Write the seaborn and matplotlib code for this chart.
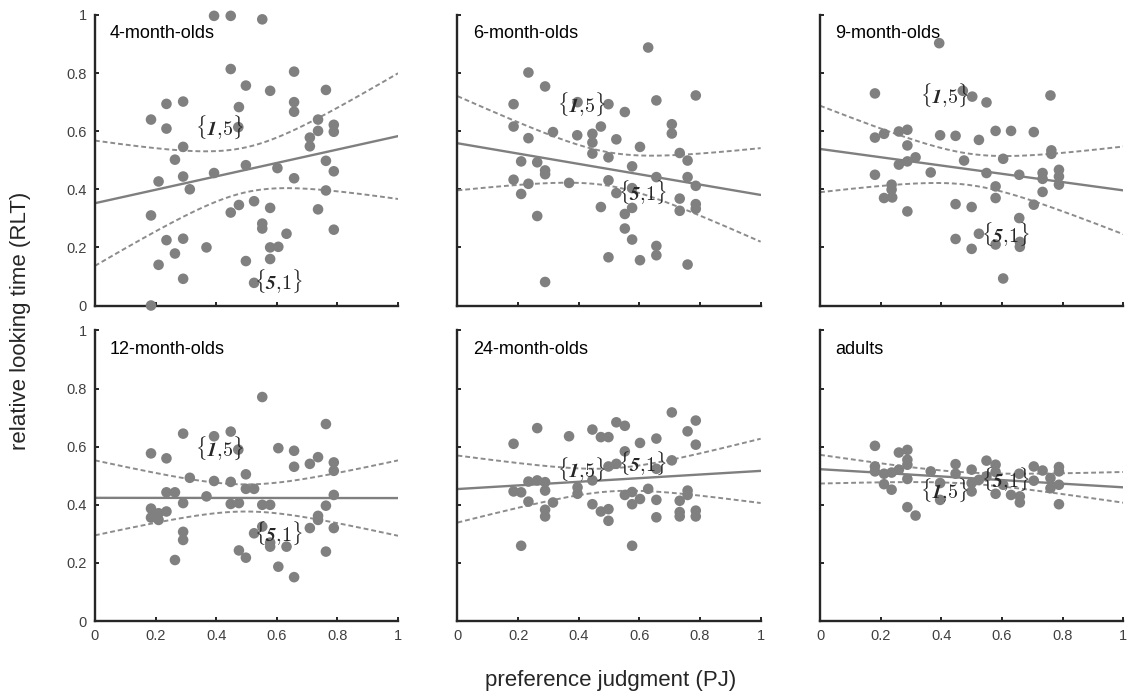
import numpy as np
import pandas as pd
import matplotlib
matplotlib.use('Agg')
import matplotlib.pyplot as plt
import seaborn as sns

# === Data ===
groups = ['4-month-olds', '6-month-olds', '9-month-olds',
          '12-month-olds', '24-month-olds', 'adults']

pj_4m = [0.393, 0.448, 0.552, 0.448, 0.657, 0.498, 0.578, 0.762, 0.236, 0.291, 0.475, 0.657,
         0.657, 0.185, 0.236, 0.473, 0.736, 0.788, 0.788, 0.736, 0.709, 0.709, 0.291, 0.264,
         0.762, 0.498, 0.602, 0.393, 0.788, 0.210, 0.291, 0.657, 0.313, 0.762, 0.525, 0.475,
         0.448, 0.578, 0.736, 0.185, 0.552, 0.552, 0.632, 0.788, 0.236, 0.291, 0.368, 0.578,
         0.605, 0.264, 0.210, 0.498, 0.578, 0.291, 0.525, 0.185]
rlt_4m = [0.997, 0.997, 0.985, 0.814, 0.805, 0.757, 0.739, 0.742, 0.694, 0.702, 0.683, 0.700,
          0.667, 0.640, 0.609, 0.614, 0.640, 0.622, 0.598, 0.601, 0.578, 0.548, 0.546, 0.502,
          0.498, 0.483, 0.473, 0.456, 0.462, 0.427, 0.444, 0.438, 0.400, 0.396, 0.359, 0.346,
          0.320, 0.336, 0.331, 0.310, 0.282, 0.265, 0.247, 0.261, 0.225, 0.230, 0.200, 0.200,
          0.202, 0.179, 0.140, 0.153, 0.160, 0.092, 0.078, 0.000]

pj_6m = [0.629, 0.234, 0.289, 0.185, 0.786, 0.656, 0.498, 0.396, 0.552, 0.185, 0.707, 0.707,
         0.473, 0.315, 0.395, 0.445, 0.445, 0.234, 0.524, 0.602, 0.445, 0.498, 0.733, 0.759,
         0.210, 0.263, 0.289, 0.289, 0.576, 0.185, 0.234, 0.368, 0.498, 0.656, 0.759, 0.786,
         0.210, 0.524, 0.576, 0.733, 0.786, 0.786, 0.733, 0.473, 0.576, 0.552, 0.263, 0.552,
         0.576, 0.656, 0.656, 0.498, 0.602, 0.759, 0.289]
rlt_6m = [0.888, 0.802, 0.754, 0.693, 0.723, 0.706, 0.693, 0.700, 0.666, 0.616, 0.624, 0.592,
          0.616, 0.597, 0.586, 0.591, 0.561, 0.576, 0.572, 0.546, 0.523, 0.510, 0.525, 0.499,
          0.496, 0.493, 0.465, 0.452, 0.479, 0.433, 0.419, 0.422, 0.431, 0.442, 0.442, 0.412,
          0.384, 0.387, 0.404, 0.368, 0.349, 0.333, 0.326, 0.339, 0.336, 0.315, 0.308, 0.265,
          0.227, 0.205, 0.173, 0.166, 0.156, 0.141, 0.081]

pj_9m = [0.393, 0.181, 0.760, 0.471, 0.502, 0.549, 0.181, 0.211, 0.260, 0.288, 0.396, 0.447,
         0.579, 0.630, 0.705, 0.524, 0.288, 0.763, 0.763, 0.604, 0.315, 0.288, 0.260, 0.475,
         0.365, 0.549, 0.657, 0.734, 0.734, 0.788, 0.788, 0.788, 0.181, 0.236, 0.236, 0.579,
         0.211, 0.238, 0.579, 0.734, 0.705, 0.288, 0.447, 0.500, 0.657, 0.524, 0.447, 0.579,
         0.659, 0.659, 0.500, 0.604]
rlt_9m = [0.903, 0.730, 0.723, 0.739, 0.719, 0.699, 0.578, 0.591, 0.599, 0.605, 0.586, 0.584,
          0.601, 0.601, 0.597, 0.570, 0.551, 0.534, 0.522, 0.505, 0.510, 0.496, 0.485, 0.499,
          0.458, 0.456, 0.450, 0.456, 0.436, 0.467, 0.444, 0.416, 0.450, 0.416, 0.399, 0.410,
          0.370, 0.372, 0.370, 0.391, 0.347, 0.324, 0.349, 0.339, 0.301, 0.247, 0.229, 0.210,
          0.219, 0.202, 0.195, 0.093]

pj_12m = [0.552, 0.762, 0.291, 0.448, 0.393, 0.473, 0.185, 0.236, 0.605, 0.657, 0.657, 0.709,
          0.736, 0.788, 0.788, 0.313, 0.393, 0.448, 0.498, 0.498, 0.525, 0.236, 0.264, 0.368,
          0.788, 0.291, 0.448, 0.475, 0.552, 0.578, 0.762, 0.185, 0.185, 0.210, 0.236, 0.210,
          0.736, 0.736, 0.552, 0.709, 0.788, 0.525, 0.291, 0.291, 0.578, 0.578, 0.632, 0.475,
          0.762, 0.498, 0.264, 0.605, 0.657]
rlt_12m = [0.771, 0.678, 0.645, 0.652, 0.636, 0.590, 0.577, 0.560, 0.595, 0.586, 0.531, 0.541,
           0.564, 0.546, 0.517, 0.493, 0.482, 0.479, 0.505, 0.455, 0.455, 0.443, 0.443, 0.429,
           0.434, 0.406, 0.403, 0.406, 0.400, 0.400, 0.397, 0.387, 0.356, 0.371, 0.377, 0.348,
           0.362, 0.348, 0.325, 0.320, 0.320, 0.302, 0.307, 0.279, 0.270, 0.256, 0.256, 0.243,
           0.239, 0.218, 0.210, 0.187, 0.151]

pj_24m = [0.707, 0.786, 0.524, 0.552, 0.263, 0.445, 0.473, 0.498, 0.368, 0.759, 0.656, 0.185,
          0.602, 0.786, 0.552, 0.707, 0.498, 0.524, 0.656, 0.445, 0.234, 0.263, 0.289, 0.289,
          0.396, 0.396, 0.629, 0.185, 0.210, 0.552, 0.576, 0.759, 0.759, 0.234, 0.315, 0.576,
          0.602, 0.656, 0.733, 0.445, 0.473, 0.498, 0.289, 0.289, 0.498, 0.656, 0.733, 0.733,
          0.786, 0.786, 0.210, 0.576]
rlt_24m = [0.718, 0.690, 0.684, 0.672, 0.664, 0.659, 0.633, 0.633, 0.636, 0.653, 0.628, 0.610,
           0.613, 0.607, 0.584, 0.553, 0.532, 0.541, 0.524, 0.484, 0.480, 0.484, 0.478, 0.449,
           0.460, 0.438, 0.455, 0.446, 0.443, 0.434, 0.444, 0.449, 0.434, 0.411, 0.408, 0.402,
           0.420, 0.417, 0.414, 0.402, 0.377, 0.385, 0.383, 0.360, 0.345, 0.357, 0.375, 0.360,
           0.380, 0.360, 0.259, 0.259]

pj_ad = [0.181, 0.260, 0.288, 0.288, 0.288, 0.549, 0.579, 0.447, 0.181, 0.181, 0.211, 0.236,
         0.260, 0.365, 0.500, 0.447, 0.705, 0.734, 0.788, 0.788, 0.579, 0.657, 0.288, 0.211,
         0.236, 0.396, 0.500, 0.524, 0.549, 0.604, 0.705, 0.760, 0.760, 0.788, 0.500, 0.579,
         0.630, 0.659, 0.659, 0.396, 0.788, 0.288, 0.315]
rlt_ad = [0.603, 0.580, 0.589, 0.555, 0.538, 0.552, 0.538, 0.540, 0.532, 0.515, 0.507, 0.511,
          0.521, 0.515, 0.521, 0.507, 0.532, 0.518, 0.530, 0.515, 0.513, 0.507, 0.489, 0.471,
          0.452, 0.475, 0.475, 0.486, 0.498, 0.469, 0.483, 0.492, 0.457, 0.469, 0.446, 0.438,
          0.434, 0.429, 0.408, 0.417, 0.402, 0.392, 0.363]

pj_all = [pj_4m, pj_6m, pj_9m, pj_12m, pj_24m, pj_ad]
rlt_all = [rlt_4m, rlt_6m, rlt_9m, rlt_12m, rlt_24m, rlt_ad]

# label positions of the {1,5} / {5,1} markers in each panel
lab15_xy = [(0.41, 0.615), (0.41, 0.694), (0.41, 0.725), (0.41, 0.597), (0.41, 0.524), (0.41, 0.452)]
lab51_xy = [(0.605, 0.083), (0.61, 0.392), (0.61, 0.247), (0.607, 0.303), (0.61, 0.545), (0.61, 0.49)]

ticks = [0, 0.2, 0.4, 0.6, 0.8, 1]
tick_labels = ['0', '0.2', '0.4', '0.6', '0.8', '1']

# === Style ===
sns.set_style('ticks')
plt.rcParams['font.family'] = ['Liberation Sans', 'DejaVu Sans']
plt.rcParams['mathtext.fontset'] = 'cm'

dot_col = '#808080'
line_col = '#7f7f7f'
spine_col = '#262626'

fig, axes = plt.subplots(2, 3, figsize=(11.3, 6.97), dpi=100)
fig.subplots_adjust(left=0.084, right=0.994, top=0.9785, bottom=0.109,
                    wspace=0.196, hspace=0.086)

xg = np.linspace(0, 1, 201)

for i, ax in enumerate(axes.flat):
    df = pd.DataFrame({'pj': pj_all[i], 'rlt': rlt_all[i]})

    # OLS fit with (simultaneous) confidence band for the mean
    x = df['pj'].values
    y = df['rlt'].values
    n = len(x)
    b1, b0 = np.polyfit(x, y, 1)
    resid = y - (b0 + b1 * x)
    s = np.sqrt(np.sum(resid ** 2) / (n - 2))
    sxx = np.sum((x - x.mean()) ** 2)
    se = s * np.sqrt(1 / n + (xg - x.mean()) ** 2 / sxx)
    t = 2.4
    fit = pd.DataFrame({'x': xg, 'yhat': b0 + b1 * xg,
                        'lo': b0 + b1 * xg - t * se, 'hi': b0 + b1 * xg + t * se})

    sns.lineplot(data=fit, x='x', y='yhat', ax=ax, color=line_col, lw=1.7, zorder=2)
    sns.lineplot(data=fit, x='x', y='lo', ax=ax, color='#8c8c8c', lw=1.4,
                 linestyle=(0, (2.5, 1.5)), zorder=2)
    sns.lineplot(data=fit, x='x', y='hi', ax=ax, color='#8c8c8c', lw=1.4,
                 linestyle=(0, (2.5, 1.5)), zorder=2)

    sns.scatterplot(data=df, x='pj', y='rlt', ax=ax, color=dot_col, s=58,
                    edgecolor='none', linewidth=0, clip_on=False, zorder=3)

    ax.text(*lab15_xy[i], r'$\{\mathbfit{1}{,}5\}$', fontsize=14.5, ha='center',
            va='center', zorder=5)
    ax.text(*lab51_xy[i], r'$\{\mathbfit{5}{,}1\}$', fontsize=14.5, ha='center',
            va='center', zorder=5)

    ax.text(0.05, 0.965, groups[i], transform=ax.transAxes, fontsize=13,
            ha='left', va='top', color='black')

    ax.set_xlim(0, 1)
    ax.set_ylim(0, 1)
    ax.set_xticks(ticks)
    ax.set_yticks(ticks)
    if i >= 3:
        ax.set_xticklabels(tick_labels)
    else:
        ax.set_xticklabels([])
    if i % 3 == 0:
        ax.set_yticklabels(tick_labels)
    else:
        ax.set_yticklabels([])
    ax.set_xlabel('')
    ax.set_ylabel('')
    ax.tick_params(direction='in', length=3, width=1.4, colors=spine_col,
                   labelcolor='#404040', labelsize=10.5, pad=6)
    sns.despine(ax=ax)
    for side in ['left', 'bottom']:
        ax.spines[side].set_linewidth(1.7)
        ax.spines[side].set_color(spine_col)

fig.text(0.018, 0.54, 'relative looking time (RLT)', rotation=90, fontsize=16,
         ha='center', va='center')
fig.text(0.54, 0.024, 'preference judgment (PJ)', fontsize=16,
         ha='center', va='center')

plt.savefig('out.png', dpi=100)
